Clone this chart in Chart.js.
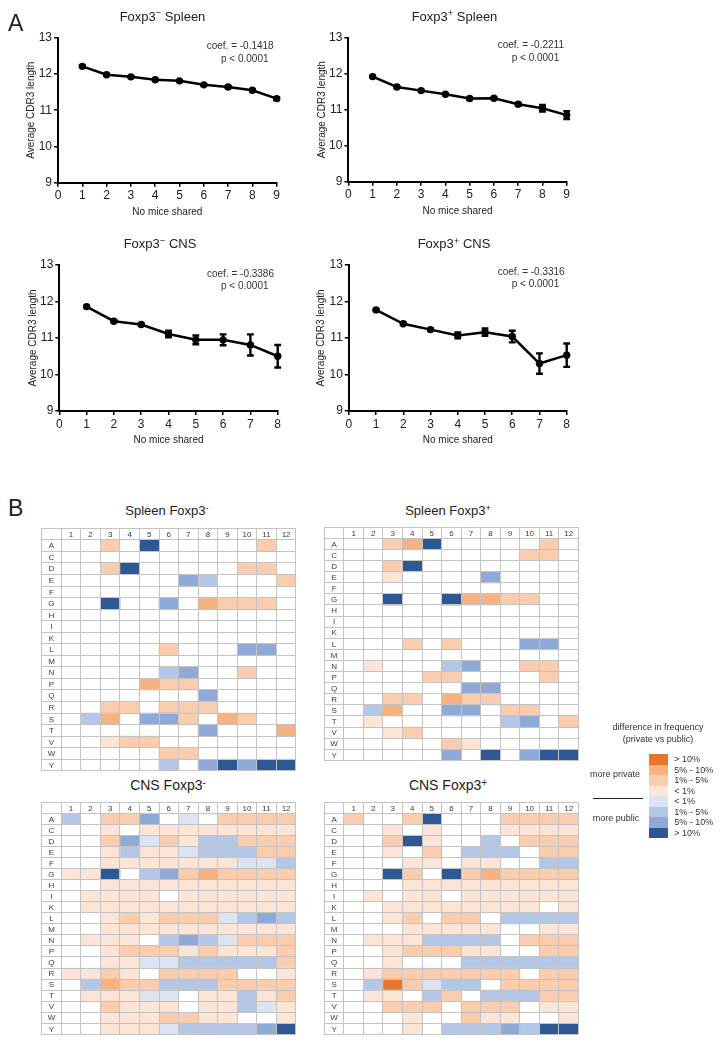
<!DOCTYPE html>
<html><head><meta charset="utf-8">
<script src="https://cdn.jsdelivr.net/npm/chart.js@4.4.1/dist/chart.umd.min.js"></script>
<style>
html,body{margin:0;padding:0;background:#fff;}
#page{position:relative;width:723px;height:1046px;overflow:hidden;font-family:"Liberation Sans",Arial,sans-serif;color:#222;}
canvas{position:absolute;}
.t{position:absolute;white-space:nowrap;line-height:1;}
.sup{position:relative;top:-0.45em;font-size:0.72em;}
.sw{position:absolute;}
</style></head>
<body><div id="page"></div>
<script>
// ---------------- DATA ----------------
const miceSharedSpleen = [1, 2, 3, 4, 5, 6, 7, 8, 9];
const miceSharedCNS = [1, 2, 3, 4, 5, 6, 7, 8];
const yTicks = [9, 10, 11, 12, 13];

const spleenNegCDR3 = [12.21, 11.98, 11.92, 11.84, 11.81, 11.70, 11.64, 11.55, 11.32];
const spleenNegErr  = [0.02, 0.02, 0.02, 0.02, 0.02, 0.02, 0.03, 0.03, 0.04];
const spleenPosCDR3 = [11.92, 11.63, 11.53, 11.43, 11.31, 11.32, 11.15, 11.04, 10.85];
const spleenPosErr  = [0.02, 0.02, 0.02, 0.02, 0.03, 0.03, 0.04, 0.09, 0.11];
const cnsNegCDR3 = [11.86, 11.46, 11.37, 11.11, 10.95, 10.95, 10.81, 10.50];
const cnsNegErr  = [0.02, 0.03, 0.03, 0.09, 0.12, 0.15, 0.29, 0.31];
const cnsPosCDR3 = [11.77, 11.39, 11.23, 11.07, 11.16, 11.04, 10.30, 10.53];
const cnsPosErr  = [0.02, 0.03, 0.03, 0.08, 0.10, 0.16, 0.28, 0.32];

const coefSpleenNeg = '-0.1418';
const coefSpleenPos = '-0.2211';
const coefCNSNeg = '-0.3386';
const coefCNSPos = '-0.3316';

const aminoAcids = ['A','C','D','E','F','G','H','I','K','L','M','N','P','Q','R','S','T','V','W','Y'];
const positions = [1,2,3,4,5,6,7,8,9,10,11,12];

// levels: 4 >10% private, 3 5-10%, 2 1-5%, 1 <1% private, 0 none, -1 <1% public, -2 1-5%, -3 5-10%, -4 >10% public
const spleenNegFreq = [
  [0,0,2,0,-4,0,0,0,0,0,2,0],
  [0,0,0,0,0,0,0,0,0,0,0,0],
  [0,0,2,-4,0,0,0,0,0,2,2,0],
  [0,0,0,0,0,0,-3,-2,0,0,0,2],
  [0,0,0,0,0,0,0,0,0,0,0,0],
  [0,0,-4,0,0,-3,0,3,2,2,2,0],
  [0,0,0,0,0,0,0,0,0,0,0,0],
  [0,0,0,0,0,0,0,0,0,0,0,0],
  [0,0,0,0,0,0,0,0,0,0,0,0],
  [0,0,0,0,0,2,0,0,0,-3,-3,0],
  [0,0,0,0,0,0,0,0,0,0,0,0],
  [0,0,0,0,0,-2,-3,0,0,2,0,0],
  [0,0,0,0,3,2,2,0,0,0,0,0],
  [0,0,0,0,0,0,0,-3,0,0,0,0],
  [0,0,2,2,0,2,2,2,0,0,0,0],
  [0,-2,3,0,-3,-3,2,0,3,2,0,0],
  [0,0,0,0,0,0,0,-3,0,0,0,3],
  [0,0,1,2,2,0,0,0,0,0,0,0],
  [0,0,0,0,0,2,2,0,0,0,0,0],
  [0,0,0,0,0,-2,0,-3,-4,-3,-4,-4]
];
const spleenPosFreq = [
  [0,0,2,3,-4,0,0,0,0,0,2,0],
  [0,0,0,0,0,0,0,0,0,2,2,0],
  [0,0,2,-4,0,0,0,0,0,0,0,0],
  [0,0,1,0,0,0,0,-3,0,0,0,0],
  [0,0,0,0,0,0,0,0,0,0,0,0],
  [0,0,-4,0,0,-4,3,3,2,2,0,0],
  [0,0,0,0,0,0,0,0,0,0,0,0],
  [0,0,0,0,0,0,0,0,0,0,0,0],
  [0,0,0,0,0,0,0,0,0,0,0,0],
  [0,0,0,2,0,2,0,0,0,-3,-3,0],
  [0,0,0,0,0,0,0,0,0,0,0,0],
  [0,1,0,0,0,-2,-3,0,0,2,2,0],
  [0,0,0,0,2,2,0,0,0,0,2,0],
  [0,0,0,0,0,0,-3,-3,0,0,0,0],
  [0,0,2,2,0,3,2,2,0,0,0,0],
  [0,-2,3,0,0,-3,-3,0,2,2,0,0],
  [0,1,0,0,0,0,0,0,-2,-3,0,2],
  [0,0,1,2,0,0,0,0,0,0,0,0],
  [0,0,0,0,0,2,1,0,0,0,0,0],
  [0,0,0,0,0,-3,0,-4,0,-3,-4,-4]
];
const cnsNegFreq = [
  [-2,0,2,2,-3,0,-1,0,2,2,2,2],
  [0,0,1,0,1,1,1,1,1,1,1,1],
  [0,0,2,-3,-1,2,1,-2,-2,2,2,2],
  [0,0,1,-2,1,1,-1,-2,-2,-2,2,2],
  [0,0,1,1,1,1,1,1,1,-1,-1,-2],
  [1,1,-4,0,-2,-3,2,3,2,2,2,2],
  [0,0,1,1,1,1,1,1,1,1,1,1],
  [0,1,1,1,1,0,1,1,1,1,1,1],
  [0,1,1,1,1,1,1,1,1,1,1,1],
  [0,0,1,2,1,2,2,2,-1,-2,-3,-2],
  [0,0,1,1,1,1,1,1,1,1,1,1],
  [0,1,1,1,0,-2,-3,-2,-1,2,2,2],
  [0,0,1,2,2,2,1,2,1,1,1,2],
  [0,0,1,1,-1,-1,-2,-2,-2,-2,-2,2],
  [1,1,2,1,0,2,2,2,2,0,0,1],
  [0,-2,3,2,2,-2,-2,-2,2,2,2,2],
  [0,1,1,1,-1,-1,0,1,1,-2,1,2],
  [0,0,2,1,1,1,0,1,1,-2,-1,1],
  [0,0,1,1,1,2,2,1,1,0,0,1],
  [0,0,1,1,1,-1,-2,-2,-2,-2,-3,-4]
];
const cnsPosFreq = [
  [2,0,0,2,-4,0,0,0,2,2,2,2],
  [0,0,1,0,1,0,0,0,1,1,1,1],
  [0,0,2,-4,1,0,0,-2,0,2,2,2],
  [0,0,1,0,2,0,-2,-2,-2,0,2,2],
  [0,0,0,1,1,0,1,1,0,0,-2,-2],
  [0,0,-4,2,0,-4,2,3,2,2,2,2],
  [0,0,0,1,1,1,1,1,1,1,1,1],
  [0,1,0,1,1,0,1,1,1,1,1,1],
  [0,0,1,1,1,1,1,1,1,1,0,1],
  [0,0,1,2,0,2,2,0,-2,-2,-2,-2],
  [0,0,0,1,1,1,1,1,0,0,1,1],
  [0,1,1,1,-2,-2,-2,-2,0,2,2,2],
  [0,0,1,2,2,2,1,1,0,0,2,2],
  [0,0,1,0,0,0,-2,-2,-2,-2,-2,-2],
  [0,1,2,2,2,2,2,2,2,0,2,2],
  [0,-2,4,2,-1,-2,-2,0,2,2,2,2],
  [0,1,1,0,-2,2,0,-2,-2,-2,2,2],
  [0,0,2,2,2,0,2,2,2,0,1,1],
  [0,0,0,1,0,0,2,1,1,0,0,1],
  [0,0,0,1,0,-2,-2,-2,-3,-2,-4,-4]
];

const legendLevels = [4, 3, 2, 1, -1, -2, -3, -4];
const legendLabels = ['> 10%', '5% - 10%', '1% - 5%', '< 1%', '< 1%', '1% - 5%', '5% - 10%', '> 10%'];

// ---------------- STYLE ----------------
const levelColor = {
  '4': '#E9742B', '3': '#F5B282', '2': '#F9CDAE', '1': '#FCE5D7',
  '0': 'rgba(255,255,255,0)',
  '-1': '#DCE4F2', '-2': '#B5C7E6', '-3': '#8FA9D9', '-4': '#2E5894'
};
const gridGrey = '#C3C3C3';
Chart.defaults.font.family = '"Liberation Sans", Arial, sans-serif';

const page = document.getElementById('page');
function addText(html, x, baseline, size, align, color) {
  const d = document.createElement('div');
  d.className = 't';
  d.innerHTML = html;
  d.style.fontSize = size + 'px';
  d.style.top = (baseline - 0.8465 * size) + 'px';
  d.style.color = color || '#222';
  if (align === 'center') { d.style.left = (x - 200) + 'px'; d.style.width = '400px'; d.style.textAlign = 'center'; }
  else d.style.left = x + 'px';
  page.appendChild(d);
}
function makeCanvas(left, top, w, h) {
  const c = document.createElement('canvas');
  c.width = w; c.height = h;
  c.style.left = left + 'px'; c.style.top = top + 'px';
  c.style.width = w + 'px'; c.style.height = h + 'px';
  page.appendChild(c);
  return c;
}

// ---------------- LINE CHARTS ----------------
const errorBarPlugin = {
  id: 'errorBars',
  afterDatasetsDraw(chart) {
    const ctx = chart.ctx, yS = chart.scales.y;
    chart.data.datasets.forEach((ds, di) => {
      if (!ds.errors) return;
      const meta = chart.getDatasetMeta(di);
      meta.data.forEach((pt, i) => {
        const e = ds.errors[i];
        if (!e) return;
        const v = ds.data[i].y;
        const y1 = yS.getPixelForValue(v + e), y2 = yS.getPixelForValue(v - e);
        ctx.save();
        ctx.strokeStyle = '#000'; ctx.lineWidth = 2.4;
        ctx.beginPath();
        ctx.moveTo(pt.x, y1); ctx.lineTo(pt.x, y2);
        ctx.moveTo(pt.x - 3.4, y1); ctx.lineTo(pt.x + 3.4, y1);
        ctx.moveTo(pt.x - 3.4, y2); ctx.lineTo(pt.x + 3.4, y2);
        ctx.stroke();
        ctx.restore();
      });
    });
  }
};

function lineChart(left, top, area, xs, ys, errs, xMax, yTitleX, xTitleY) {
  const W = 300, H = 230, xAxisH = 36;
  const c = makeCanvas(left, top, W, H);
  new Chart(c, {
    type: 'line',
    data: { datasets: [{
      data: xs.map((x, i) => ({ x: x, y: ys[i] })),
      errors: errs,
      borderColor: '#000', backgroundColor: '#000', borderWidth: 2.5,
      pointRadius: 3.7, pointBackgroundColor: '#000', pointBorderWidth: 0, tension: 0,
      clip: 12
    }]},
    options: {
      responsive: false, animation: false,
      layout: { padding: { left: 0, top: area.t, right: W - area.r, bottom: H - area.b - xAxisH } },
      plugins: { legend: { display: false }, tooltip: { enabled: false } },
      scales: {
        x: {
          type: 'linear', min: 0, max: xMax,
          afterFit: s => { s.height = xAxisH; },
          ticks: { stepSize: 1, color: '#222', font: { size: 12 }, padding: 2, autoSkip: false, maxRotation: 0 },
          grid: { drawOnChartArea: false, drawTicks: true, tickLength: 4, color: '#000', lineWidth: 1.5 },
          border: { display: true, color: '#000', width: 2 },
          title: { display: true, text: 'No mice shared', color: '#222', font: { size: 10 },
                   padding: { top: 0, bottom: Math.max(0, area.b + xAxisH - 6 - xTitleY) } }
        },
        y: {
          type: 'linear', min: yTicks[0], max: yTicks[yTicks.length - 1],
          afterFit: s => { s.width = area.l; },
          ticks: { stepSize: 1, color: '#222', font: { size: 12 }, padding: 2 },
          grid: { drawOnChartArea: false, drawTicks: true, tickLength: 4, color: '#000', lineWidth: 1.5 },
          border: { display: true, color: '#000', width: 2 },
          title: { display: true, text: 'Average CDR3 length', color: '#222', font: { size: 10 },
                   padding: { top: yTitleX - 6, bottom: 0 } }
        }
      }
    },
    plugins: [errorBarPlugin]
  });
}

lineChart(0, 0, { l: 58, r: 276.7, t: 37.7, b: 182.7 }, miceSharedSpleen, spleenNegCDR3, spleenNegErr, 9, 31.7, 212.3);
lineChart(290, 0, { l: 58.4, r: 276.7, t: 37.7, b: 181.7 }, miceSharedSpleen, spleenPosCDR3, spleenPosErr, 9, 32.7, 212.0);
lineChart(0, 228, { l: 59.3, r: 277.7, t: 37, b: 183 }, miceSharedCNS, cnsNegCDR3, cnsNegErr, 8, 33.3, 212.7);
lineChart(290, 228, { l: 58.8, r: 276.7, t: 37, b: 183 }, miceSharedCNS, cnsPosCDR3, cnsPosErr, 8, 31.7, 212.7);

// ---------------- HEATMAPS ----------------
const heatLabelPlugin = {
  id: 'heatLabels',
  afterDraw(chart) {
    const ctx = chart.ctx, x = chart.scales.x, y = chart.scales.y;
    ctx.save();
    ctx.font = '8px "Liberation Sans", Arial, sans-serif';
    ctx.fillStyle = '#3a3a3a'; ctx.textAlign = 'center'; ctx.textBaseline = 'middle';
    positions.forEach((p, i) => ctx.fillText(String(p), x.getPixelForValue(i + 1.5), y.getPixelForValue(0) + 0.5));
    aminoAcids.forEach((a, i) => ctx.fillText(a, x.getPixelForValue(0.5), y.getPixelForValue(i + 1) + 0.5));
    ctx.restore();
  }
};

function heatmap(gridLeft, gridTop, colW, rowH, matrix) {
  const cl = Math.floor(gridLeft) - 1, ct = Math.floor(gridTop) - 1;
  const gw = colW * (positions.length + 1), gh = rowH * (aminoAcids.length + 1);
  const W = Math.ceil(gridLeft + gw + 2 - cl), H = Math.ceil(gridTop + gh + 2 - ct);
  const pad = { left: gridLeft - cl, top: gridTop - ct,
                right: W - (gridLeft - cl) - gw, bottom: H - (gridTop - ct) - gh };
  const canvas = makeCanvas(cl, ct, W, H);
  const datasets = positions.map((p, ci) => ({
    data: [null].concat(aminoAcids.map(() => [ci + 1, ci + 2])),
    backgroundColor: ['rgba(0,0,0,0)'].concat(aminoAcids.map((a, ri) => levelColor[String(matrix[ri][ci])])),
    borderWidth: 0, categoryPercentage: 1, barPercentage: 1, grouped: false
  }));
  new Chart(canvas, {
    type: 'bar',
    data: { labels: [''].concat(aminoAcids), datasets: datasets },
    options: {
      indexAxis: 'y', responsive: false, animation: false,
      layout: { padding: pad },
      plugins: { legend: { display: false }, tooltip: { enabled: false } },
      scales: {
        x: { type: 'linear', min: 0, max: positions.length + 1, afterFit: s => { s.height = 0; },
             ticks: { display: false, stepSize: 1, maxTicksLimit: 100 },
             grid: { color: gridGrey, lineWidth: 1, drawTicks: false, z: 1 },
             border: { display: true, color: gridGrey, width: 1, z: 1 } },
        y: { type: 'category', offset: true, afterFit: s => { s.width = 0; },
             ticks: { display: false },
             grid: { offset: true, color: gridGrey, lineWidth: 1, drawTicks: false, z: 1 },
             border: { display: true, color: gridGrey, width: 1, z: 1 } }
      }
    },
    plugins: [heatLabelPlugin]
  });
}

heatmap(41.7, 528.3, 19.55, 11.55, spleenNegFreq);
heatmap(324.3, 527.3, 19.55, 11.1, spleenPosFreq);
heatmap(41.7, 802.3, 19.55, 11.05, cnsNegFreq);
heatmap(324.3, 802.3, 19.55, 11.05, cnsPosFreq);

// ---------------- TEXT ----------------
addText('A', 8, 31.7, 23, 'left', '#222');
addText('Foxp3<span class="sup">&#8722;</span> Spleen', 162.5, 20.7, 13, 'center');
addText('Foxp3<span class="sup">+</span> Spleen', 454.5, 20.7, 13, 'center');
addText('Foxp3<span class="sup">&#8722;</span> CNS', 160, 248, 13, 'center');
addText('Foxp3<span class="sup">+</span> CNS', 454, 248, 13, 'center');

addText('coef. = ' + coefSpleenNeg, 206.7, 49.7, 10, 'left', '#333');
addText('p &lt; 0.0001', 221, 62.5, 10, 'left', '#333');
addText('coef. = ' + coefSpleenPos, 497.7, 48.8, 10, 'left', '#333');
addText('p &lt; 0.0001', 511.7, 61.3, 10, 'left', '#333');
addText('coef. = ' + coefCNSNeg, 207, 277.5, 10, 'left', '#333');
addText('p &lt; 0.0001', 221, 289.8, 10, 'left', '#333');
addText('coef. = ' + coefCNSPos, 497.7, 275.5, 10, 'left', '#333');
addText('p &lt; 0.0001', 511.7, 287.8, 10, 'left', '#333');

addText('B', 8, 516.7, 23, 'left', '#222');
addText('Spleen Foxp3<span class="sup">-</span>', 167, 515, 13, 'center');
addText('Spleen Foxp3<span class="sup">+</span>', 448, 515, 13, 'center');
addText('CNS Foxp3<span class="sup">-</span>', 168, 790, 14, 'center');
addText('CNS Foxp3<span class="sup">+</span>', 448, 790, 14, 'center');

// ---------------- LEGEND ----------------
addText('difference in frequency', 658, 731, 9, 'center', '#333');
addText('(private vs public)', 658, 743, 9, 'center', '#333');
legendLevels.forEach((lv, i) => {
  const s = document.createElement('div');
  s.className = 'sw';
  s.style.left = '649px'; s.style.top = (754.3 + 10.5 * i) + 'px';
  s.style.width = '19.3px'; s.style.height = '10.5px';
  s.style.background = levelColor[String(lv)];
  page.appendChild(s);
  addText(legendLabels[i].replace('<', '&lt;').replace('>', '&gt;'), 674.3, 762.8 + 10.5 * i, 9, 'left', '#333');
});
addText('more private', 615, 778, 9, 'center', '#333');
addText('more public', 616, 822, 9, 'center', '#333');
const rule = document.createElement('div');
rule.style.position = 'absolute'; rule.style.left = '592.7px'; rule.style.top = '797.6px';
rule.style.width = '50.6px'; rule.style.height = '1.4px'; rule.style.background = '#222';
page.appendChild(rule);
</script>
</body></html>
